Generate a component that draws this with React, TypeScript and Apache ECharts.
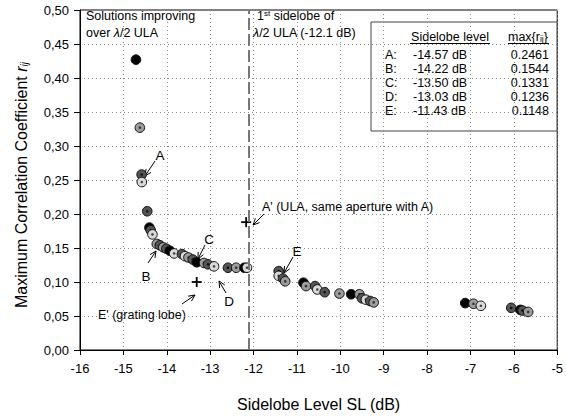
import React, { useEffect, useRef } from "react";
import * as echarts from "echarts";

// ---- data ----
const sidelobeDb = [-14.71, -14.62, -14.58, -14.575, -14.45, -14.4, -14.37, -14.33, -14.23, -14.16, -14.08, -14.01, -13.93, -13.83, -13.65, -13.58, -13.5, -13.4, -13.31, -13.14, -13.05, -12.91, -12.59, -12.4, -12.21, -12.15, -11.42, -11.42, -11.32, -11.27, -10.85, -10.79, -10.58, -10.53, -10.36, -10.02, -9.75, -9.56, -9.5, -9.41, -9.31, -9.23, -7.12, -6.93, -6.76, -6.06, -5.85, -5.8, -5.67];
const maxCorr = [0.427, 0.327, 0.258, 0.247, 0.204, 0.18, 0.176, 0.17, 0.156, 0.154, 0.151, 0.149, 0.146, 0.142, 0.141, 0.138, 0.136, 0.133, 0.129, 0.128, 0.126, 0.123, 0.121, 0.121, 0.121, 0.121, 0.116, 0.109, 0.105, 0.101, 0.099, 0.094, 0.094, 0.089, 0.085, 0.083, 0.082, 0.082, 0.076, 0.074, 0.072, 0.07, 0.069, 0.068, 0.065, 0.062, 0.059, 0.058, 0.056];
const pointShade = ["k", "m", "d", "l", "d", "k", "d", "l", "m", "d", "m", "d", "k", "l", "d", "l", "m", "d", "k", "m", "d", "l", "d", "m", "k", "l", "d", "l", "d", "m", "k", "m", "d", "l", "d", "m", "k", "m", "d", "l", "d", "m", "k", "m", "l", "d", "k", "d", "m"];

const crossX = [-12.17, -13.31]; // A' and E'
const crossY = [0.188, 0.1];

const ulaSidelobe = -12.1;

const tableLabels = ["A:", "B:", "C:", "D:", "E:"];
const tableSL = ["-14.57 dB", "-14.22 dB", "-13.50 dB", "-13.03 dB", "-11.43 dB"];
const tableR = ["0.2461", "0.1544", "0.1331", "0.1236", "0.1148"];

const FONT = "'Liberation Sans', Arial, sans-serif";

const shadeStyle: Record<string, { fill: string; dot: string | null }> = {
  k: { fill: "#000000", dot: null },
  d: { fill: "#555555", dot: "#111111" },
  m: { fill: "#9c9c9c", dot: "#333333" },
  l: { fill: "#d9d9d9", dot: "#444444" },
};

function arrow(x1: number, y1: number, x2: number, y2: number) {
  const ang = Math.atan2(y2 - y1, x2 - x1);
  const L = 7;
  const a = (25 * Math.PI) / 180;
  const p1 = [x2 - L * Math.cos(ang - a), y2 - L * Math.sin(ang - a)];
  const p2 = [x2 - L * Math.cos(ang + a), y2 - L * Math.sin(ang + a)];
  return {
    type: "group",
    children: [
      { type: "line", shape: { x1, y1, x2, y2 }, style: { stroke: "#000", lineWidth: 1 } },
      { type: "polyline", shape: { points: [p1, [x2, y2], p2] }, style: { stroke: "#000", lineWidth: 1, fill: null } },
    ],
  };
}

function txt(text: string, x: number, y: number, opts: any = {}) {
  const align = opts.align || "left";
  return {
    type: "text",
    x,
    y,
    rotation: opts.rotation || 0,
    style: {
      text,
      fill: "#000",
      fontSize: opts.fontSize || 12.5,
      fontFamily: FONT,
      align,
      textAlign: align,
      verticalAlign: "middle",
      textVerticalAlign: "middle",
      lineHeight: opts.lineHeight,
      rich: opts.rich,
    },
  };
}

export default function App() {
  const ref = useRef<HTMLDivElement>(null);
  useEffect(() => {
    if (!ref.current) return;
    const chart = echarts.init(ref.current, null, { renderer: "svg" });

    const tableX = 371, tableY = 22;
    const rowY0 = 54.5, rowStep = 14;
    const tableChildren: any[] = [
      { type: "rect", shape: { x: tableX, y: tableY, width: 186, height: 109 }, style: { fill: "#fff", stroke: "#444", lineWidth: 1 } },
      txt("Sidelobe level", 450, 37, { align: "center" }),
      { type: "line", shape: { x1: 410, y1: 43.5, x2: 490, y2: 43.5 }, style: { stroke: "#000", lineWidth: 1 } },
      txt("{a|max{r}{s|ij}}", 508, 37, {
        rich: {
          a: { fontSize: 12.5, fontFamily: FONT, fill: "#000" },
          s: { fontSize: 8.5, fontFamily: FONT, fill: "#000", verticalAlign: "bottom" },
        },
      }),
      { type: "line", shape: { x1: 508, y1: 43.5, x2: 549, y2: 43.5 }, style: { stroke: "#000", lineWidth: 1 } },
    ];
    tableLabels.forEach((lab, i) => {
      const y = rowY0 + i * rowStep;
      tableChildren.push(txt(lab, 385, y));
      tableChildren.push(txt(tableSL[i], 413, y));
      tableChildren.push(txt(tableR[i], 549, y, { align: "right" }));
    });

    const graphics: any[] = [
      ...tableChildren,
      txt("Solutions improving\nover {i|λ}/2 ULA", 86, 24.5, {
        lineHeight: 16.5,
        rich: { i: { fontStyle: "italic", fontSize: 12.5, fontFamily: FONT, fill: "#000" } },
      }),
      txt("1{sup|st} sidelobe of", 257, 16, {
        rich: { sup: { fontSize: 8, fontFamily: FONT, fill: "#000", verticalAlign: "top" } },
      }),
      txt("{i|λ}/2 ULA (-12.1 dB)", 253, 32.5, {
        rich: { i: { fontStyle: "italic", fontSize: 12.5, fontFamily: FONT, fill: "#000" } },
      }),
      txt("A", 160, 155, { fontSize: 13.5, align: "center" }),
      arrow(155, 161, 145, 176),
      txt("B", 146, 276, { fontSize: 13.5, align: "center" }),
      arrow(148, 263, 156, 251),
      txt("C", 209, 239, { fontSize: 13.5, align: "center" }),
      arrow(205, 245, 198, 259),
      txt("D", 229, 301, { fontSize: 13.5, align: "center" }),
      arrow(226, 293, 219, 281),
      txt("E", 297, 251, { fontSize: 13.5, align: "center" }),
      arrow(293, 257, 284, 273),
      txt("E' (grating lobe)", 98, 315),
      arrow(182, 304, 195, 295),
      txt("A' (ULA, same aperture with A)", 262, 207),
      arrow(264, 214, 253, 225),
      txt("Maximum Correlation Coefficient {i|r}{s|ij}", 21, 185, {
        fontSize: 16,
        rotation: Math.PI / 2,
        align: "center",
        rich: {
          i: { fontStyle: "italic", fontSize: 16, fontFamily: FONT, fill: "#000" },
          s: { fontStyle: "italic", fontSize: 10, fontFamily: FONT, fill: "#000", verticalAlign: "bottom" },
        },
      }),
    ];

    const option: any = {
      animation: false,
      backgroundColor: "#fff",
      grid: { left: 80, right: 2, top: 10, bottom: 57, show: true, borderColor: "#000", borderWidth: 1, backgroundColor: "transparent" },
      xAxis: {
        type: "value",
        min: -16,
        max: -5,
        interval: 1,
        name: "Sidelobe Level SL (dB)",
        nameLocation: "middle",
        nameGap: 46,
        nameTextStyle: { fontSize: 16, fontFamily: FONT, color: "#000" },
        axisLine: { show: true, onZero: false, lineStyle: { color: "#000", width: 1 } },
        axisTick: { show: true, inside: false, length: 5, lineStyle: { color: "#000" } },
        axisLabel: { fontSize: 13, fontFamily: FONT, color: "#000", margin: 12 },
        splitLine: { show: true, lineStyle: { type: [1, 3], color: "#888", width: 1 } },
      },
      yAxis: {
        type: "value",
        min: 0,
        max: 0.5,
        interval: 0.05,
        axisLine: { show: true, onZero: false, lineStyle: { color: "#000", width: 1 } },
        axisTick: { show: true, inside: false, length: 6, lineStyle: { color: "#000" } },
        axisLabel: {
          fontSize: 13,
          fontFamily: FONT,
          color: "#000",
          margin: 11,
          formatter: (v: number) => v.toFixed(2).replace(".", ","),
        },
        splitLine: { show: true, lineStyle: { type: [1, 3], color: "#888", width: 1 } },
      },
      series: [
        {
          type: "line",
          data: [],
          silent: true,
          markLine: {
            silent: true,
            symbol: ["none", "none"],
            label: { show: false },
            lineStyle: { type: [12, 4], color: "#777", width: 2 },
            data: [{ xAxis: ulaSidelobe }],
          },
        },
        {
          type: "custom",
          data: sidelobeDb.map((x, i) => [x, maxCorr[i]]),
          encode: { x: 0, y: 1 },
          renderItem: (params: any, api: any) => {
            const p = api.coord([api.value(0), api.value(1)]);
            const s = shadeStyle[pointShade[params.dataIndex]];
            const children: any[] = [
              { type: "circle", shape: { cx: p[0], cy: p[1], r: 4.8 }, style: { fill: s.fill, stroke: "#111", lineWidth: 1 } },
            ];
            if (s.dot) children.push({ type: "circle", shape: { cx: p[0], cy: p[1], r: 1.3 }, style: { fill: s.dot } });
            return { type: "group", children };
          },
        },
        {
          type: "custom",
          data: crossX.map((x, i) => [x, crossY[i]]),
          encode: { x: 0, y: 1 },
          renderItem: (params: any, api: any) => {
            const p = api.coord([api.value(0), api.value(1)]);
            const h = 5;
            return {
              type: "group",
              children: [
                { type: "line", shape: { x1: p[0] - h, y1: p[1], x2: p[0] + h, y2: p[1] }, style: { stroke: "#000", lineWidth: 1.8 } },
                { type: "line", shape: { x1: p[0], y1: p[1] - h, x2: p[0], y2: p[1] + h }, style: { stroke: "#000", lineWidth: 1.8 } },
              ],
            };
          },
        },
      ],
      graphic: { elements: graphics },
    };
    chart.setOption(option);
    return () => chart.dispose();
  }, []);
  return (
    <div
      ref={ref}
      style={{ position: "fixed", left: 0, top: 0, width: 566, height: 417, background: "#fff" }}
    />
  );
}
